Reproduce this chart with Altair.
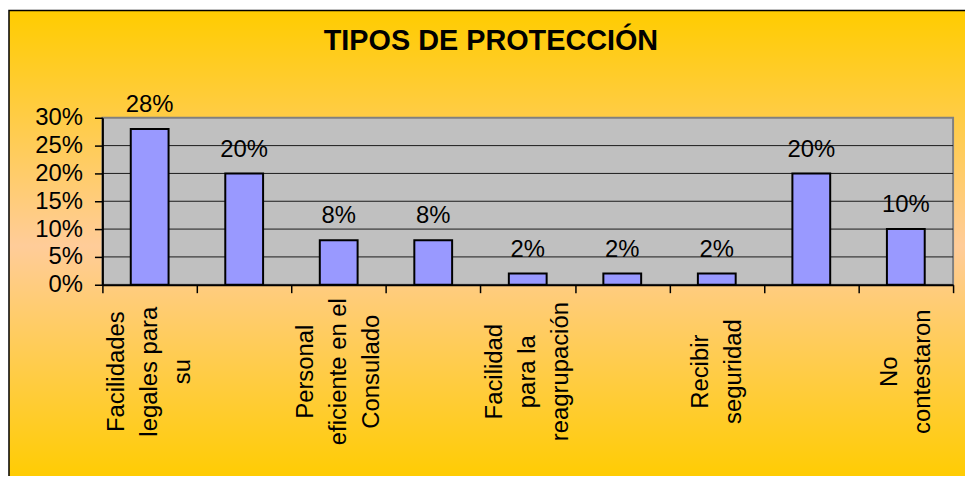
import json
import altair as alt
import pandas as pd

# ---------------- data ----------------
title_text = "TIPOS DE PROTECCIÓN"
positions = [0, 1, 2, 3, 4, 5, 6, 7, 8]
category_labels = [
    "Facilidades\nlegales para\nsu",
    "",
    "Personal\neficiente en el\nConsulado",
    "",
    "Facilidad\npara la\nreagrupación",
    "",
    "Recibir\nseguridad",
    "",
    "No\ncontestaron",
]
values = [0.28, 0.20, 0.08, 0.08, 0.02, 0.02, 0.02, 0.20, 0.10]
y_ticks = [0, 0.05, 0.10, 0.15, 0.20, 0.25, 0.30]
grid_values = [0.05, 0.10, 0.15, 0.20, 0.25]

# ---------------- style ----------------
FONT = "Liberation Sans, Arial, sans-serif"
W, H = 856, 168
LINE_H = 33

df = pd.DataFrame({"pos": positions, "value": values})
grid_df = pd.DataFrame({"g": grid_values})
one = pd.DataFrame({"t": [title_text]})

labels_js = json.dumps(category_labels, ensure_ascii=False)
line_counts_js = json.dumps([lbl.count("\n") + 1 for lbl in category_labels])
label_expr = (
    "isValid(datum.value) && isValid(" + labels_js + "[datum.value]) ? split("
    + labels_js + "[datum.value], '\\n') : ''"
)
# centre multi-line label blocks on their category
label_offset = {
    "condition": [
        {"test": "isValid(datum.value) && " + line_counts_js + "[datum.value] == 3", "value": -LINE_H},
        {"test": "isValid(datum.value) && " + line_counts_js + "[datum.value] == 2", "value": -LINE_H / 2},
    ],
    "value": 0,
}

y_scale = alt.Scale(domain=[0, 0.30], nice=False)
x_scale = alt.Scale(paddingInner=0, paddingOuter=0)

y_axis = alt.Axis(
    title=None,
    values=y_ticks,
    format=".0%",
    labelFontSize=24,
    labelFont=FONT,
    labelColor="black",
    labelPadding=12,
    tickSize=8,
    tickColor="black",
    tickWidth=1.5,
    domainColor="black",
    domainWidth=2,
    grid=False,
    zindex=1,
)

x_axis = alt.Axis(
    title=None,
    labelExpr=label_expr,
    labelAngle=270,
    labelAlign="center",
    labelBaseline="middle",
    labelPadding=79,
    labelOffset=label_offset,
    labelLineHeight=LINE_H,
    labelFontSize=24,
    labelFont=FONT,
    labelColor="black",
    labelOverlap=False,
    labelLimit=400,
    tickBand="extent",
    tickSize=8,
    tickColor="black",
    tickWidth=1.5,
    domainColor="black",
    domainWidth=2,
    grid=False,
    zindex=1,
)

# background with gradient (whole chart area)
bg = alt.Chart(one).mark_rect(
    color=alt.Gradient(
        gradient="linear",
        stops=[
            alt.GradientStop(color="#FFCC00", offset=0),
            alt.GradientStop(color="#FFCC99", offset=0.5),
            alt.GradientStop(color="#FFCC00", offset=1),
        ],
        x1=0, x2=0, y1=0, y2=1,
    ),
    stroke="black",
    strokeWidth=1.5,
).encode(
    x=alt.value(-94), x2=alt.value(W + 14),
    y=alt.value(-108), y2=alt.value(H + 198),
)

# gray plot area
plot_bg = alt.Chart(one).mark_rect(
    fill="#C0C0C0", stroke="#808080", strokeWidth=2
).encode(
    x=alt.value(0), x2=alt.value(W), y=alt.value(0), y2=alt.value(H)
)

grid = alt.Chart(grid_df).mark_rule(color="#1a1a1a", strokeWidth=1).encode(
    y=alt.Y("g:Q", scale=y_scale, axis=y_axis)
)

bars = alt.Chart(df).mark_bar(
    color="#9999FF", stroke="black", strokeWidth=2,
    width=alt.RelativeBandSize(0.4),
).encode(
    x=alt.X("pos:O", scale=x_scale, axis=x_axis),
    y=alt.Y("value:Q", scale=y_scale, axis=y_axis),
)

value_labels = alt.Chart(df).mark_text(
    dy=-17, baseline="alphabetic", fontSize=24, font=FONT, color="black"
).encode(
    x=alt.X("pos:O", scale=x_scale, axis=x_axis),
    y=alt.Y("value:Q", scale=y_scale, axis=y_axis),
    text=alt.Text("value:Q", format=".0%"),
)

title = alt.Chart(one).mark_text(
    fontSize=29, fontWeight="bold", font=FONT, color="black",
    align="center", baseline="alphabetic",
).encode(
    text="t:N", x=alt.value(391), y=alt.value(-68)
)

chart = alt.layer(bg, plot_bg, grid, bars, value_labels, title).properties(
    width=W,
    height=H,
    padding={"left": 95, "top": 109, "right": 12, "bottom": 191},
    autosize=alt.AutoSizeParams(type="none"),
    background="white",
).configure_view(stroke=None)

chart.save("out.html", embed_options={"renderer": "svg", "actions": False})
